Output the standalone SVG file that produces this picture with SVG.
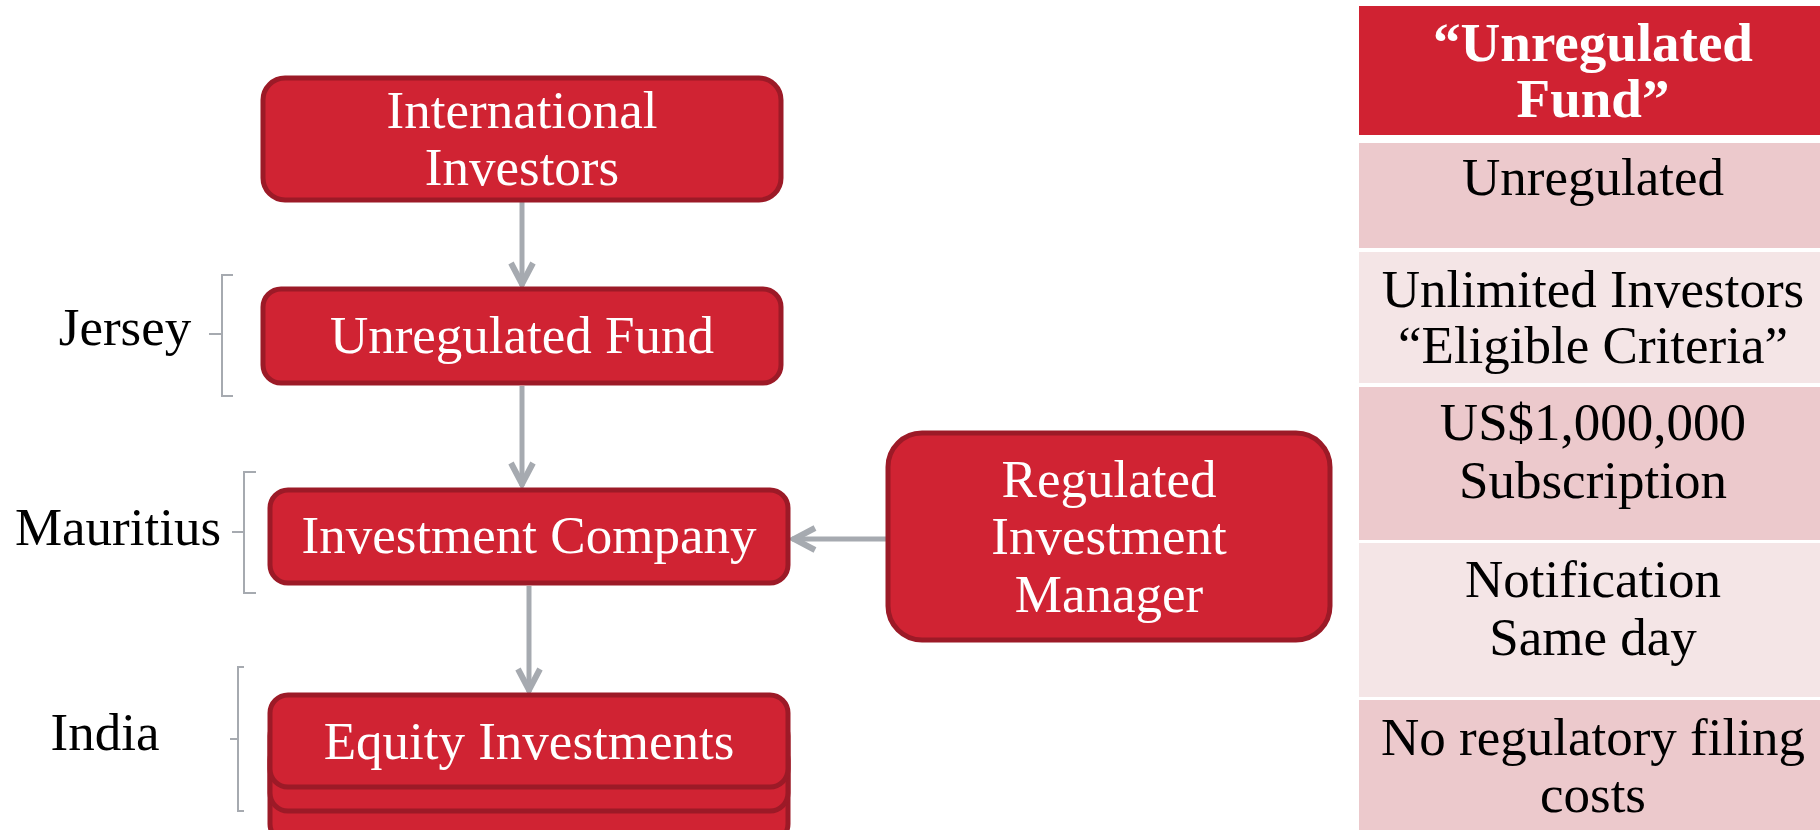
<svg xmlns="http://www.w3.org/2000/svg" width="1820" height="830" viewBox="0 0 1820 830">
<style>
.node{fill:#d02333;stroke:#9c1a27;stroke-width:5}
.nt{font-family:"Liberation Serif","DejaVu Serif",serif;font-size:53px;fill:#ffffff;text-anchor:middle}
.lbl{font-family:"Liberation Serif","DejaVu Serif",serif;font-size:53px;fill:#000000;text-anchor:middle}
.tt{font-family:"Liberation Serif","DejaVu Serif",serif;font-size:53px;fill:#000000;text-anchor:middle}
.th{font-family:"Liberation Serif","DejaVu Serif",serif;font-size:55px;font-weight:bold;fill:#ffffff;text-anchor:middle}
.conn{stroke:#a6aab0;stroke-width:5;fill:none}
.br{stroke:#a6aab0;stroke-width:2;fill:none}
</style>
<defs>
<marker id="ah" viewBox="0 0 28 28" refX="26" refY="14" markerWidth="28" markerHeight="28" markerUnits="userSpaceOnUse" orient="auto">
<path d="M3,3 L24,14 L3,25" fill="none" stroke="#a6aab0" stroke-width="6" stroke-linejoin="miter"/>
</marker>
</defs>
<rect width="1820" height="830" fill="#ffffff"/>

<g id="connectors">
<line class="conn" x1="522" y1="202" x2="522" y2="286" marker-end="url(#ah)"/>
<line class="conn" x1="522" y1="386" x2="522" y2="486" marker-end="url(#ah)"/>
<line class="conn" x1="529" y1="586" x2="529" y2="692" marker-end="url(#ah)"/>
<line class="conn" x1="886" y1="539" x2="792" y2="539" marker-end="url(#ah)"/>
</g>

<g id="node-international-investors">
<rect class="node" x="263" y="78" width="518" height="122" rx="22"/>
<text class="nt" x="522" y="128">International</text>
<text class="nt" x="522" y="185">Investors</text>
</g>

<g id="node-unregulated-fund">
<rect class="node" x="263" y="289" width="518" height="94" rx="18"/>
<text class="nt" x="522" y="353">Unregulated Fund</text>
</g>

<g id="node-investment-company">
<rect class="node" x="270" y="490" width="518" height="93" rx="18"/>
<text class="nt" x="529" y="553">Investment Company</text>
</g>

<g id="node-equity-investments">
<rect class="node" x="270" y="742" width="518" height="100" rx="18"/>
<rect class="node" x="270" y="718" width="518" height="93" rx="18"/>
<rect class="node" x="270" y="695" width="518" height="92" rx="18"/>
<text class="nt" x="529" y="759">Equity Investments</text>
</g>

<g id="node-regulated-investment-manager">
<rect class="node" x="888" y="433" width="442" height="207" rx="34"/>
<text class="nt" x="1109" y="497">Regulated</text>
<text class="nt" x="1109" y="554">Investment</text>
<text class="nt" x="1109" y="612">Manager</text>
</g>

<g id="label-jersey">
<text class="lbl" x="125" y="345">Jersey</text>
<path class="br" d="M233,275 H222 V396 H233 M222,334 H209"/>
</g>

<g id="label-mauritius">
<text class="lbl" x="118" y="545">Mauritius</text>
<path class="br" d="M256,472 H244 V593 H256 M244,532 H232"/>
</g>

<g id="label-india">
<text class="lbl" x="105" y="750">India</text>
<path class="br" d="M244,667 H238 V811 H244 M238,739 H230"/>
</g>

<g id="table">
<g id="table-header">
<rect x="1359" y="6" width="470" height="129" fill="#d02232"/>
<text class="th" x="1593" y="61">“Unregulated</text>
<text class="th" x="1593" y="117">Fund”</text>
</g>
<g id="row-1">
<rect x="1359" y="143" width="470" height="105" fill="#ecc9cc"/>
<text class="tt" x="1593" y="195">Unregulated</text>
</g>
<g id="row-2">
<rect x="1359" y="252" width="470" height="131" fill="#f4e5e6"/>
<text class="tt" x="1593" y="307">Unlimited Investors</text>
<text class="tt" x="1593" y="363">“Eligible Criteria”</text>
</g>
<g id="row-3">
<rect x="1359" y="387" width="470" height="153" fill="#ecc9cc"/>
<text class="tt" x="1593" y="440">US$1,000,000</text>
<text class="tt" x="1593" y="498">Subscription</text>
</g>
<g id="row-4">
<rect x="1359" y="543" width="470" height="154" fill="#f4e5e6"/>
<text class="tt" x="1593" y="597">Notification</text>
<text class="tt" x="1593" y="655">Same day</text>
</g>
<g id="row-5">
<rect x="1359" y="700" width="470" height="140" fill="#ecc9cc"/>
<text class="tt" x="1593" y="755">No regulatory filing</text>
<text class="tt" x="1593" y="812">costs</text>
</g>
</g>
</svg>
